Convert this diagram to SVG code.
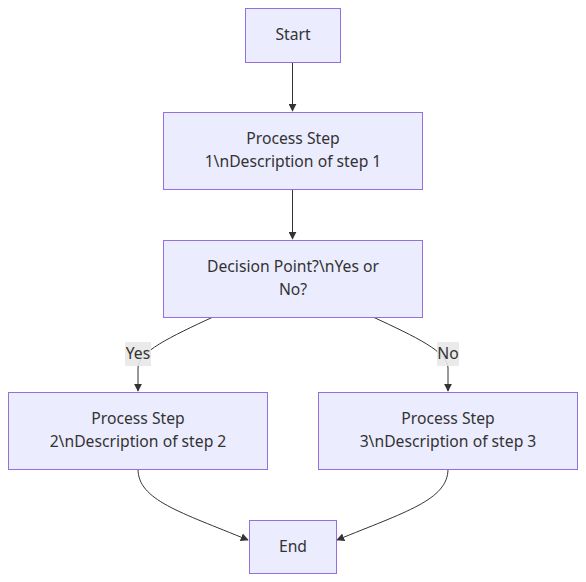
<svg xmlns="http://www.w3.org/2000/svg" width="586" height="582" viewBox="0 0 586 582">
<style>
.node rect{fill:#ECECFF;stroke:#9370DB;stroke-width:1}
text{font-family:"Noto Sans","Open Sans","Liberation Sans",sans-serif;font-size:15.7px;fill:#333;text-anchor:middle;dominant-baseline:central}
.edge{fill:none;stroke:#333;stroke-width:1}
.lbl rect{fill:#e8e8e8;opacity:0.9}
</style>
<defs>
<marker id="arr" viewBox="0 0 10 10" refX="9" refY="5" markerWidth="8" markerHeight="8" markerUnits="userSpaceOnUse" orient="auto">
<path d="M0,0L10,5L0,10z" fill="#333"/>
</marker>
</defs>
<rect width="586" height="582" fill="#fff"/>
<g id="edges">
<path class="edge" d="M292.5,62V111" marker-end="url(#arr)"/>
<path class="edge" d="M292.5,189V239" marker-end="url(#arr)"/>
<path class="edge" d="M213,317C170,337 138,352 138,368V391" marker-end="url(#arr)"/>
<path class="edge" d="M373,317C416,337 448,352 448,368V391" marker-end="url(#arr)"/>
<path class="edge" d="M138,469C138,500 180,512 248,540" marker-end="url(#arr)"/>
<path class="edge" d="M448,469C448,500 405,512 337,540" marker-end="url(#arr)"/>
<g class="lbl"><rect x="125" y="342" width="26" height="24"/><text x="138" y="353">Yes</text></g>
<g class="lbl"><rect x="437" y="342" width="22" height="24"/><text x="448" y="353">No</text></g>
</g>
<g id="start" class="node"><rect x="245.5" y="8.5" width="95" height="54"/><text x="293" y="34">Start</text></g>
<g id="p1" class="node"><rect x="163.5" y="112.5" width="259" height="77"/><text x="293" y="138">Process Step</text><text x="293" y="161">1\nDescription of step 1</text></g>
<g id="decision" class="node"><rect x="163.5" y="240.5" width="259" height="77"/><text x="293" y="266">Decision Point?\nYes or</text><text x="293" y="289">No?</text></g>
<g id="p2" class="node"><rect x="8.5" y="392.5" width="259" height="77"/><text x="138" y="418">Process Step</text><text x="138" y="441">2\nDescription of step 2</text></g>
<g id="p3" class="node"><rect x="318.5" y="392.5" width="259" height="77"/><text x="448" y="418">Process Step</text><text x="448" y="441">3\nDescription of step 3</text></g>
<g id="end" class="node"><rect x="249.5" y="520.5" width="87" height="53"/><text x="293" y="546">End</text></g>
</svg>
